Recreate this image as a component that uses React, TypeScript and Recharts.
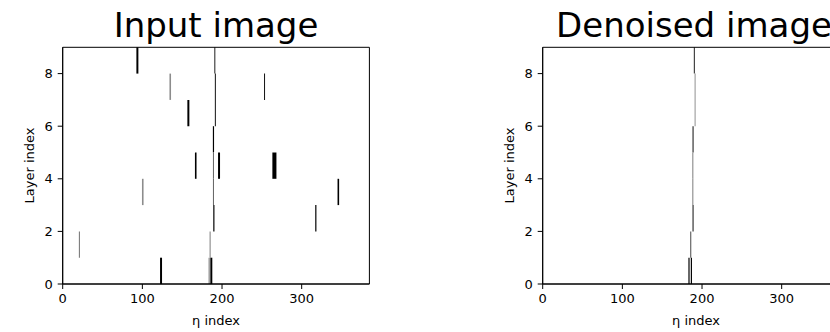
import React from 'react';
import { ComposedChart, XAxis, YAxis, ReferenceArea } from 'recharts';

// ---- axes ----
const ETA_DOMAIN: [number, number] = [0, 385];
const LAYER_DOMAIN: [number, number] = [0, 9];
const ETA_TICKS = [0, 100, 200, 300];
const LAYER_TICKS = [0, 2, 4, 6, 8];

// ---- input image: one entry per lit segment (layer row, eta start/end column, intensity) ----
const inputLayer = [8, 8, 7, 7, 7, 6, 6, 5, 4, 4, 4, 4, 3, 3, 3, 2, 2, 1, 1, 0, 0, 0];
const inputEtaStart = [92.5, 190.3, 134.0, 191.0, 252.7, 156.5, 191.0, 188.5, 166.0, 188.6, 195.0, 263.2, 99.5, 188.6, 345.0, 189.0, 317.0, 20.3, 184.4, 122.2, 183.0, 185.3];
const inputEtaEnd = [95.0, 191.6, 136.0, 192.3, 254.0, 159.0, 192.3, 190.0, 168.0, 189.9, 197.5, 268.3, 101.5, 189.9, 347.0, 190.5, 318.5, 21.6, 185.7, 124.7, 184.8, 187.8];
const inputValue = [1.0, 0.85, 0.45, 0.9, 0.9, 1.0, 0.9, 1.0, 1.0, 0.6, 1.0, 1.0, 0.45, 0.6, 1.0, 1.0, 1.0, 0.55, 0.5, 1.0, 0.4, 1.0];

// ---- denoised image ----
const denoisedLayer = [8, 7, 6, 5, 4, 3, 2, 1, 0, 0];
const denoisedEtaStart = [189.7, 190.7, 190.7, 188.0, 187.8, 187.8, 188.0, 185.2, 182.9, 185.9];
const denoisedEtaEnd = [191.0, 191.9, 191.9, 189.5, 189.1, 189.1, 189.5, 186.5, 184.4, 187.4];
const denoisedValue = [0.85, 0.45, 0.45, 0.8, 0.5, 0.5, 0.8, 0.7, 1.0, 1.0];

const FONT = 'DejaVu Sans';

// gray_r colormap
function grey(v: number): string {
  const c = Math.round(255 * (1 - Math.max(0, Math.min(1, v))));
  return `rgb(${c},${c},${c})`;
}

type PanelProps = {
  layer: number[];
  etaStart: number[];
  etaEnd: number[];
  value: number[];
};

function Panel({ layer, etaStart, etaEnd, value }: PanelProps) {
  const tickStyle = { fill: '#000', fontSize: 13, fontFamily: FONT };
  return (
    <ComposedChart
      width={400}
      height={324}
      margin={{ top: 39.3, right: 38.6, bottom: 18, left: 0 }}
      data={[]}
    >
      <XAxis
        type="number"
        dataKey="eta"
        domain={ETA_DOMAIN}
        ticks={ETA_TICKS}
        interval={0}
        allowDataOverflow
        stroke="#000"
        tickSize={5}
        tickMargin={5}
        tick={tickStyle}
        height={30}
      />
      <YAxis
        type="number"
        dataKey="layer"
        domain={LAYER_DOMAIN}
        ticks={LAYER_TICKS}
        interval={0}
        allowDataOverflow
        stroke="#000"
        tickSize={5}
        tickMargin={5}
        tick={tickStyle}
        width={54.7}
      />
      {layer.map((l, i) => (
        <ReferenceArea
          key={i}
          x1={etaStart[i]}
          x2={etaEnd[i]}
          y1={l}
          y2={l + 1}
          fill={grey(value[i])}
          fillOpacity={1}
          stroke="none"
          ifOverflow="visible"
        />
      ))}
      <ReferenceArea
        x1={ETA_DOMAIN[0]}
        x2={ETA_DOMAIN[1]}
        y1={LAYER_DOMAIN[0]}
        y2={LAYER_DOMAIN[1]}
        fill="none"
        fillOpacity={0}
        stroke="#000"
        strokeWidth={1}
        ifOverflow="visible"
      />
    </ComposedChart>
  );
}

export default function App() {
  return (
    <>
      <style>{'html,body{margin:0;padding:0;overflow:hidden}'}</style>
      <div style={{ position: 'relative', width: 830, height: 332, overflow: 'hidden', background: '#fff' }}>
        <div style={{ position: 'absolute', left: 8, top: 8 }}>
          <Panel layer={inputLayer} etaStart={inputEtaStart} etaEnd={inputEtaEnd} value={inputValue} />
        </div>
        <div style={{ position: 'absolute', left: 488, top: 8 }}>
          <Panel layer={denoisedLayer} etaStart={denoisedEtaStart} etaEnd={denoisedEtaEnd} value={denoisedValue} />
        </div>
        <svg
          width={830}
          height={332}
          style={{ position: 'absolute', left: 0, top: 0, pointerEvents: 'none' }}
        >
          <text x={216} y={37.3} textAnchor="middle" fontFamily={FONT} fontSize={34} fill="#000">
            Input image
          </text>
          <text x={694} y={37.3} textAnchor="middle" fontFamily={FONT} fontSize={34} fill="#000">
            Denoised image
          </text>
          <text x={216} y={325} textAnchor="middle" fontFamily={FONT} fontSize={13} fill="#000">
            η index
          </text>
          <text x={696} y={325} textAnchor="middle" fontFamily={FONT} fontSize={13} fill="#000">
            η index
          </text>
          <text
            x={33.8}
            y={165.5}
            textAnchor="middle"
            fontFamily={FONT}
            fontSize={13}
            fill="#000"
            transform="rotate(-90, 33.8, 165.5)"
          >
            Layer index
          </text>
          <text
            x={513.8}
            y={165.5}
            textAnchor="middle"
            fontFamily={FONT}
            fontSize={13}
            fill="#000"
            transform="rotate(-90, 513.8, 165.5)"
          >
            Layer index
          </text>
        </svg>
      </div>
    </>
  );
}
